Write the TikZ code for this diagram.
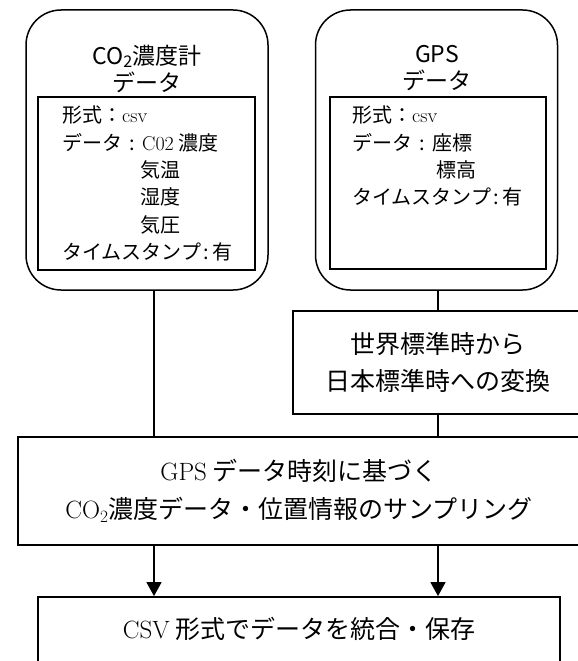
\documentclass[tikz,border=0pt]{standalone}
\usepackage{fontspec}
\usepackage{xcolor}
\usetikzlibrary{arrows.meta}
\newfontfamily\jpfont{Noto Sans CJK JP}
\tikzset{
	databox/.style={draw,line width=1.5pt,rounded corners=35pt,minimum width=242pt,minimum height=280pt,inner sep=0pt},
	itembox/.style={draw,line width=1.8pt,inner sep=0pt},
	titletext/.style={align=center,inner sep=0pt,font=\jpfont\fontsize{23}{27}\selectfont},
	itemtext/.style={align=left,inner sep=0pt,anchor=north west,font=\jpfont\fontsize{20}{27.3}\selectfont},
	procbox/.style={draw,line width=1.8pt,inner sep=0pt,align=center,font=\jpfont\fontsize{25}{37}\selectfont},
	link/.style={line width=1.5pt},
	flow/.style={line width=1.5pt,-{Triangle[width=15pt,length=14pt]}}
}
\begin{document}
\begin{tikzpicture}[x=1pt,y=-1pt]
	\path[use as bounding box,clip] (0,0) rectangle (578,661);
	\coordinate (colL) at (154,0);
	\coordinate (colR) at (438,0);
	\node[databox] (co2) at (147,150) {};
	\node[itembox,minimum width=217pt,minimum height=173pt] (co2items) at (146.5,183.5) {};
	\node[titletext] (co2title) at (147,68.5) {CO\textsubscript{2}濃度計\\データ};
	\node[itemtext] (co2text) at (62,106)
	{
		形式：{\rmfamily csv}\\
		データ\makebox[20pt]{:}{\rmfamily C02} 濃度\\
		\hspace*{78pt}気温\\
		\hspace*{78pt}湿度\\
		\hspace*{78pt}気圧\\
		タイムスタンプ\makebox[11pt]{:}有
	};
	\node[databox] (gps) at (436.5,150) {};
	\node[itembox,minimum width=216pt,minimum height=172pt] (gpsitems) at (438,183) {};
	\node[titletext] (gpstitle) at (437,68.5) {GPS\\データ};
	\node[itemtext] (gpstext) at (352,106)
	{
		形式：{\rmfamily csv}\\
		データ\makebox[20pt]{:}座標\\
		\hspace*{84pt}標高\\
		タイムスタンプ\makebox[11pt]{:}有
	};
	\node[procbox,minimum width=290pt,minimum height=103pt] (conv) at (438,362.5) {世界標準時から\\日本標準時への変換};
	\node[procbox,minimum width=562pt,minimum height=108pt,font=\jpfont\fontsize{25}{38}\selectfont] (samp) at (299,491)
	{{\rmfamily GPS} データ時刻に基づく\\{\rmfamily CO$_2$}濃度データ・位置情報のサンプリング};
	\node[procbox,minimum width=522pt,minimum height=128pt] (save) at (299,661) {};
	\node[procbox,draw=none] (savetext) at (299,629) {{\rmfamily CSV} 形式でデータを統合・保存};
	\draw[link] (co2.south -| colL) -- (samp.north -| colL);
	\draw[link] (gps.south -| colR) -- (conv.north -| colR);
	\draw[link] (conv.south -| colR) -- (samp.north -| colR);
	\draw[flow] (samp.south -| colL) -- (save.north -| colL);
	\draw[flow] (samp.south -| colR) -- (save.north -| colR);
\end{tikzpicture}
\end{document}
